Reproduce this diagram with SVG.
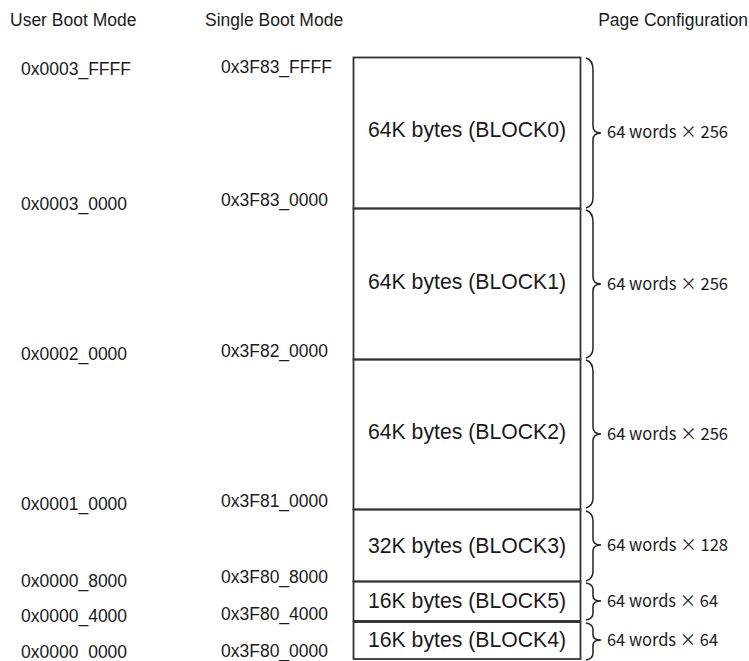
<svg xmlns="http://www.w3.org/2000/svg" width="749" height="661" viewBox="0 0 749 661">
<style>
.t{font-family:"Liberation Sans",Arial,sans-serif;font-size:17.5px;fill:#1a1a1a}
.b{font-family:"Liberation Sans",Arial,sans-serif;font-size:22px;fill:#1a1a1a;text-anchor:middle}
.p{font-family:"Noto Sans CJK JP","DejaVu Sans Mono",monospace;font-size:17px;fill:#1a1a1a}
.ln{stroke:#333;stroke-width:1.8;fill:none}
.br{stroke:#222;stroke-width:1.5;fill:none}
</style>
<rect width="749" height="661" fill="#fff"/>
<g id="headers">
<text class="t" x="10" y="26">User Boot Mode</text>
<text class="t" x="205" y="26">Single Boot Mode</text>
<text class="t" x="748" y="26" text-anchor="end">Page Configuration</text>
</g>
<g id="addresses">
<text class="t" x="21" y="75">0x0003_FFFF</text>
<text class="t" x="221" y="73">0x3F83_FFFF</text>
<text class="t" x="21" y="210">0x0003_0000</text>
<text class="t" x="221" y="206">0x3F83_0000</text>
<text class="t" x="21" y="360">0x0002_0000</text>
<text class="t" x="221" y="357">0x3F82_0000</text>
<text class="t" x="21" y="510">0x0001_0000</text>
<text class="t" x="221" y="507">0x3F81_0000</text>
<text class="t" x="21" y="587">0x0000_8000</text>
<text class="t" x="221" y="583">0x3F80_8000</text>
<text class="t" x="21" y="622">0x0000_4000</text>
<text class="t" x="221" y="620">0x3F80_4000</text>
<text class="t" x="21" y="658">0x0000_0000</text>
<text class="t" x="221" y="657">0x3F80_0000</text>
</g>
<g id="block0"><rect class="ln" x="353.5" y="57.5" width="227" height="151"/><text class="b" x="467" y="137" textLength="198" lengthAdjust="spacingAndGlyphs">64K bytes (BLOCK0)</text></g>
<g id="block1"><rect class="ln" x="353.5" y="208.5" width="227" height="151"/><text class="b" x="467" y="289" textLength="198" lengthAdjust="spacingAndGlyphs">64K bytes (BLOCK1)</text></g>
<g id="block2"><rect class="ln" x="353.5" y="359.5" width="227" height="150"/><text class="b" x="467" y="439" textLength="198" lengthAdjust="spacingAndGlyphs">64K bytes (BLOCK2)</text></g>
<g id="block3"><rect class="ln" x="353.5" y="509.5" width="227" height="72"/><text class="b" x="467" y="553" textLength="198" lengthAdjust="spacingAndGlyphs">32K bytes (BLOCK3)</text></g>
<g id="block5"><rect class="ln" x="353.5" y="581.5" width="227" height="39.5"/><text class="b" x="467" y="608" textLength="198" lengthAdjust="spacingAndGlyphs">16K bytes (BLOCK5)</text></g>
<g id="block4"><rect class="ln" x="353.5" y="622" width="227" height="37"/><line x1="353.5" y1="621.5" x2="580.5" y2="621.5" stroke="#333" stroke-width="2.6"/><text class="b" x="467" y="647" textLength="198" lengthAdjust="spacingAndGlyphs">16K bytes (BLOCK4)</text></g>
<g id="connectors">
<path class="br" d="M586,58 Q593,60 593,70 L593,126 Q593,133 601,133 Q593,133 593,140 L593,198 Q593,206 586,208"/>
<path class="br" d="M586,210 Q593,212 593,222 L593,277 Q593,284 601,284 Q593,284 593,291 L593,348 Q593,356 586,358"/>
<path class="br" d="M586,360 Q593,362 593,372 L593,427 Q593,434 601,434 Q593,434 593,441 L593,498 Q593,506 586,508"/>
<path class="br" d="M586,511 Q593,513 593,521 L593,539 Q593,545 601,545 Q593,545 593,551 L593,571 Q593,579 586,581"/>
<path class="br" d="M586,583 Q593,584 593,590 L593,596 Q593,601 601,601 Q593,601 593,606 L593,613 Q593,619 586,620"/>
<path class="br" d="M586,623 Q593,624 593,630 L593,635 Q593,640 601,640 Q593,640 593,645 L593,653 Q593,659 586,660"/>
</g>
<g id="pages">
<text class="p" x="607" y="138" textLength="121" lengthAdjust="spacingAndGlyphs">64 words × 256</text>
<text class="p" x="607" y="290" textLength="121" lengthAdjust="spacingAndGlyphs">64 words × 256</text>
<text class="p" x="607" y="440" textLength="121" lengthAdjust="spacingAndGlyphs">64 words × 256</text>
<text class="p" x="607" y="551" textLength="121" lengthAdjust="spacingAndGlyphs">64 words × 128</text>
<text class="p" x="607" y="607" textLength="111" lengthAdjust="spacingAndGlyphs">64 words × 64</text>
<text class="p" x="607" y="646" textLength="111" lengthAdjust="spacingAndGlyphs">64 words × 64</text>
</g>
</svg>
